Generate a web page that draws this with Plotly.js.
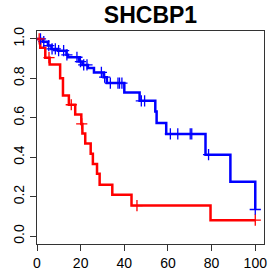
<!DOCTYPE html>
<html>
<head>
<meta charset="utf-8">
<script src="https://cdn.plot.ly/plotly-3.0.1.min.js"></script>
<style>html,body{margin:0;padding:0;background:#fff;}#chart{width:270px;height:277px;}</style>
</head>
<body>
<div id="chart"></div>
<script>
// Kaplan-Meier step points (time, survival)
var blueTimes = [0, 2.7, 5.0, 6.6, 9.6, 13.5, 14.2, 19.2, 20.8, 23.3, 26.1, 30.5, 32.0, 40.0, 47.0, 54.2, 54.8, 59.2, 77.2, 88.6, 100];
var blueSurv  = [1.0, 0.986, 0.966, 0.949, 0.94, 0.919, 0.907, 0.885, 0.868, 0.852, 0.83, 0.806, 0.776, 0.728, 0.686, 0.632, 0.574, 0.518, 0.413, 0.275, 0.135];
var blueCensor = [1.6, 3.1, 5.4, 6.9, 8.4, 9.9, 12.2, 13.7, 18.3, 19.9, 21.4, 22.9, 29.5, 31.0, 33.6, 37.1, 37.8, 38.9, 47.8, 49.3, 61.1, 64.5, 70.2, 70.9, 78.6, 100];

var redTimes = [0, 1.5, 3.8, 5.8, 10.6, 11.9, 14.6, 17.5, 20.3, 20.8, 22.1, 24.6, 25.6, 27.5, 28.7, 34.5, 43.3, 79.5, 100];
var redSurv  = [1.0, 0.955, 0.905, 0.87, 0.80, 0.713, 0.666, 0.616, 0.569, 0.52, 0.469, 0.417, 0.366, 0.316, 0.26, 0.21, 0.155, 0.081, 0.081];
var redCensor = [1.0, 5.5, 15.7, 20.5, 45.8, 100];

var xTicks = [0, 20, 40, 60, 80, 100];
var yTicks = [0, 0.2, 0.4, 0.6, 0.8, 1.0];
var yTickText = ["0.0", "0.2", "0.4", "0.6", "0.8", "1.0"];
var titleText = "SHCBP1";

function survAt(times, surv, t) {
  var v = surv[0];
  for (var i = 0; i < times.length; i++) { if (times[i] <= t) v = surv[i]; }
  return v;
}
function censorY(times, surv, cens) { return cens.map(function (t) { return survAt(times, surv, t); }); }

var blue = 'rgb(0,0,255)', red = 'rgb(255,0,0)';
var traces = [
  {x: blueTimes, y: blueSurv, mode: 'lines', line: {shape: 'hv', color: blue, width: 2.5}, hoverinfo: 'skip'},
  {x: redTimes, y: redSurv, mode: 'lines', line: {shape: 'hv', color: red, width: 2.5}, hoverinfo: 'skip'},
  {x: blueCensor, y: censorY(blueTimes, blueSurv, blueCensor), mode: 'markers',
   marker: {symbol: 'cross-thin', size: 8, color: blue, line: {color: blue, width: 1.3}}, hoverinfo: 'skip'},
  {x: redCensor, y: censorY(redTimes, redSurv, redCensor), mode: 'markers',
   marker: {symbol: 'cross-thin', size: 8, color: red, line: {color: red, width: 1.3}}, hoverinfo: 'skip'}
];

var layout = {
  width: 270, height: 277,
  margin: {l: 37, r: 5.5, t: 31, b: 33, pad: 0},
  paper_bgcolor: '#fff', plot_bgcolor: '#fff',
  showlegend: false,
  font: {family: 'Liberation Sans, Arial, sans-serif', color: '#000', size: 14},
  title: {text: '<b>' + titleText + '</b>', x: 0.5575, xanchor: 'center', y: 0.945, yanchor: 'middle',
          font: {family: 'Liberation Sans, Arial, sans-serif', size: 23, color: '#000'}},
  xaxis: {range: [0, 104], tickvals: xTicks, ticktext: xTicks.map(String), ticks: 'outside', ticklen: 6,
          tickcolor: '#333', tickwidth: 1, showline: true, mirror: true, linecolor: '#333', linewidth: 1,
          showgrid: false, zeroline: false, tickfont: {size: 14, color: '#000'}, fixedrange: true},
  yaxis: {range: [-0.04, 1.04], tickvals: yTicks, ticktext: yTickText, ticks: 'outside', ticklen: 6,
          tickcolor: '#333', tickwidth: 1, showline: true, mirror: true, linecolor: '#333', linewidth: 1,
          showgrid: false, zeroline: false, tickangle: -90, tickfont: {size: 14, color: '#000'}, fixedrange: true}
};

Plotly.newPlot('chart', traces, layout, {staticPlot: true, displayModeBar: false});
</script>
</body>
</html>
